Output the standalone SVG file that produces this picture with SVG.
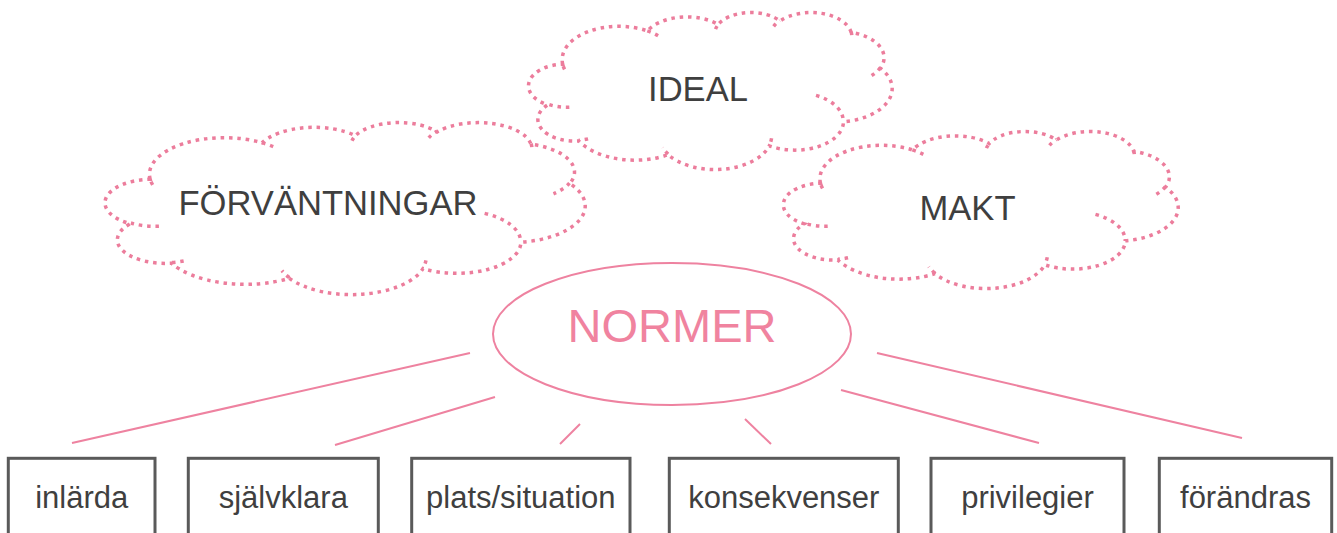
<svg xmlns="http://www.w3.org/2000/svg" width="1337" height="533" viewBox="0 0 1337 533">
<style>
.cloud{fill:#fff;stroke:#EC7D9C;stroke-width:3.5;stroke-dasharray:3.5 4.8}
.hook{fill:none;stroke:#EC7D9C;stroke-width:3.5;stroke-dasharray:3.5 4.8}
.ctext{font-family:"Liberation Sans",Arial,sans-serif;font-size:34.6px;fill:#3f3f3f;text-anchor:middle}
.conn{stroke:#EE82A0;stroke-width:2;fill:none}
.box{fill:#fff;stroke:#5a5a5a;stroke-width:3}
.btext{font-family:"Liberation Sans",Arial,sans-serif;font-size:31px;fill:#3f3f3f;text-anchor:middle}
</style>
<g id="cloud-forvantningar">
<path class="cloud" d="M150.15,179.21 A74.72,36.59 0 0 1 261.96,142.71 A59.01,28.93 0 0 1 355.48,135.66 A48.30,23.67 0 0 1 437.12,131.88 A53.74,26.26 0 0 1 531.01,144.21 A59.01,28.96 0 0 1 569.74,183.56 A74.96,36.71 0 0 1 520.89,242.25 A64.01,31.32 0 0 1 422.99,268.57 A74.71,36.69 0 0 1 289.37,278.33 A85.42,41.98 0 0 1 171.24,263.22 A48.24,23.56 0 0 1 130.40,223.71 A48.08,23.67 0 0 1 150.15,179.21 Z"/>
<path class="hook" d="M158.93,226.22 A48.08,23.67 0 0 1 130.90,223.05 M183.66,260.95 A48.24,23.56 0 0 1 171.39,262.47 M289.33,277.64 A74.71,36.69 0 0 1 281.93,270.71 M425.96,260.36 A74.71,36.69 0 0 1 422.99,267.96 M484.63,213.39 A64.01,31.32 0 0 1 520.61,241.80 M569.49,183.13 A59.01,28.96 0 0 1 553.47,193.79 M531.05,143.60 A53.74,26.26 0 0 1 531.89,148.64 M428.74,137.73 A53.74,26.26 0 0 1 436.95,131.32 M351.98,140.79 A48.30,23.67 0 0 1 355.96,135.26 M261.91,142.67 A74.72,36.59 0 0 1 276.30,148.05 M152.66,184.86 A74.72,36.59 0 0 1 150.15,179.21"/>
<text class="ctext" x="328" y="215">FÖRVÄNTNINGAR</text>
</g>
<g id="cloud-ideal">
<path class="cloud" d="M562.68,64.22 A56.59,33.40 0 0 1 647.36,30.91 A44.69,26.41 0 0 1 718.18,24.47 A36.58,21.61 0 0 1 780.00,21.02 A40.70,23.97 0 0 1 851.11,32.27 A44.69,26.43 0 0 1 880.44,68.19 A56.77,33.51 0 0 1 843.45,121.77 A48.48,28.59 0 0 1 769.30,145.79 A56.58,33.49 0 0 1 668.11,154.70 A64.69,38.32 0 0 1 578.65,140.90 A36.54,21.51 0 0 1 547.72,104.84 A36.41,21.61 0 0 1 562.68,64.22 Z"/>
<path class="hook" d="M569.32,107.13 A36.41,21.61 0 0 1 548.10,104.24 M588.05,138.83 A36.54,21.51 0 0 1 578.76,140.22 M668.08,154.06 A56.58,33.49 0 0 1 662.48,147.74 M771.56,138.29 A56.58,33.49 0 0 1 769.32,145.23 M815.99,95.42 A48.48,28.59 0 0 1 843.24,121.36 M880.25,67.80 A44.69,26.43 0 0 1 868.12,77.53 M851.14,31.72 A40.70,23.97 0 0 1 851.78,36.31 M773.66,26.36 A40.70,23.97 0 0 1 779.88,20.50 M715.53,29.15 A36.58,21.61 0 0 1 718.54,24.10 M647.31,30.87 A56.59,33.40 0 0 1 658.22,35.78 M564.58,69.38 A56.59,33.40 0 0 1 562.68,64.22"/>
<text class="ctext" x="698" y="101">IDEAL</text>
</g>
<g id="cloud-makt">
<path class="cloud" d="M820.48,183.22 A61.43,33.40 0 0 1 912.41,149.91 A48.52,26.41 0 0 1 989.30,143.47 A39.71,21.61 0 0 1 1056.41,140.02 A44.18,23.97 0 0 1 1133.61,151.27 A48.52,26.43 0 0 1 1165.46,187.19 A61.63,33.51 0 0 1 1125.29,240.77 A52.63,28.59 0 0 1 1044.80,264.79 A61.43,33.49 0 0 1 934.94,273.70 A70.23,38.32 0 0 1 837.82,259.90 A39.67,21.51 0 0 1 804.24,223.84 A39.53,21.61 0 0 1 820.48,183.22 Z"/>
<path class="hook" d="M827.69,226.13 A39.53,21.61 0 0 1 804.65,223.24 M848.03,257.83 A39.67,21.51 0 0 1 837.94,259.22 M934.91,273.06 A61.43,33.49 0 0 1 928.83,266.74 M1047.25,257.29 A61.43,33.49 0 0 1 1044.82,264.23 M1095.48,214.42 A52.63,28.59 0 0 1 1125.06,240.36 M1165.25,186.80 A48.52,26.43 0 0 1 1152.07,196.53 M1133.64,150.72 A44.18,23.97 0 0 1 1134.33,155.31 M1049.53,145.36 A44.18,23.97 0 0 1 1056.28,139.50 M986.42,148.15 A39.71,21.61 0 0 1 989.69,143.10 M912.36,149.87 A61.43,33.40 0 0 1 924.20,154.78 M822.54,188.38 A61.43,33.40 0 0 1 820.48,183.22"/>
<text class="ctext" x="967.5" y="220">MAKT</text>
</g>
<g id="normer">
<ellipse cx="672" cy="334" rx="179" ry="71" fill="#fff" stroke="#EE82A0" stroke-width="2"/>
<text x="672" y="341.7" font-family="Liberation Sans, Arial, sans-serif" font-size="47" fill="#F0839F" text-anchor="middle">NORMER</text>
</g>
<g id="connectors">
<line class="conn" x1="470" y1="353" x2="72" y2="443"/>
<line class="conn" x1="495" y1="397" x2="335" y2="445"/>
<line class="conn" x1="580" y1="424" x2="560" y2="444"/>
<line class="conn" x1="745" y1="419" x2="771" y2="444"/>
<line class="conn" x1="841" y1="390" x2="1039" y2="443"/>
<line class="conn" x1="877" y1="353" x2="1242" y2="438"/>
</g>
<g id="box-inlarda">
<rect class="box" x="8.3" y="458.3" width="146.7" height="90"/>
<text class="btext" x="81.7" y="507.5">inlärda</text>
</g>
<g id="box-sjalvklara">
<rect class="box" x="188.3" y="458.3" width="190" height="90"/>
<text class="btext" x="283.3" y="507.5">självklara</text>
</g>
<g id="box-plats">
<rect class="box" x="411.7" y="458.3" width="218.3" height="90"/>
<text class="btext" x="520.8" y="507.5">plats/situation</text>
</g>
<g id="box-konsekvenser">
<rect class="box" x="669.3" y="458.3" width="229" height="90"/>
<text class="btext" x="783.8" y="507.5">konsekvenser</text>
</g>
<g id="box-privilegier">
<rect class="box" x="931" y="458.3" width="193" height="90"/>
<text class="btext" x="1027.5" y="507.5">privilegier</text>
</g>
<g id="box-forandras">
<rect class="box" x="1159.3" y="458.3" width="172.4" height="90"/>
<text class="btext" x="1245.5" y="507.5">förändras</text>
</g>
</svg>
